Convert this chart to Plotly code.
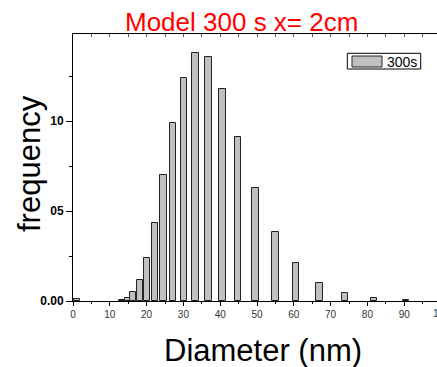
import plotly.graph_objects as go

diameters = [1.0, 13.3, 14.9, 16.4, 18.2, 20.2, 22.3, 24.6, 27.1, 30.1, 33.3,
             36.8, 40.6, 44.9, 49.6, 55.0, 60.6, 67.0, 74.0, 81.7, 90.4]
frequency = [0.0013, 0.0003, 0.0015, 0.0048, 0.0115, 0.0237, 0.0433, 0.0698,
             0.099, 0.124, 0.1376, 0.1354, 0.118, 0.0913, 0.0626, 0.0383,
             0.0209, 0.010, 0.0043, 0.0015, 0.0004]
series_name = "300s"
y_tickvals = [0.0, 0.05, 0.10]
y_ticktext = ["0.00", "05", "10"]
x_tickvals = [0, 10, 20, 30, 40, 50, 60, 70, 80, 90]

FONT = "Arial, Liberation Sans, sans-serif"
W, H = 437, 367
L, T, B = 73, 34, 66
PW = W - L
PH = H - T - B
XR = [0, PW / 3.68]
YR = [0, PH / 1800.0]


def px_x(v):
    return (v - L) / PW


def px_y(v):
    return (H - B - v) / PH


fig = go.Figure()
fig.add_trace(go.Bar(
    x=diameters, y=frequency, width=1.7, name=series_name, showlegend=False,
    marker=dict(color="#c0c0c0", line=dict(color="#222222", width=1)),
))
fig.add_trace(go.Scatter(x=[None], y=[None], xaxis="x2", showlegend=False,
                         hoverinfo="skip"))

fig.update_layout(
    width=W, height=H,
    margin=dict(l=L, r=0, t=T, b=B, autoexpand=False),
    paper_bgcolor="white", plot_bgcolor="white",
    font=dict(family=FONT, color="black"),
    bargap=0,
    xaxis=dict(
        range=XR, showgrid=False, zeroline=False,
        showline=True, linecolor="black", linewidth=1,
        tickvals=x_tickvals, ticks="outside", ticklen=4, tickcolor="black",
        tickfont=dict(size=10, color="#333333", family=FONT),
        minor=dict(dtick=5, tick0=0, ticks="outside", ticklen=2, tickcolor="black"),
    ),
    xaxis2=dict(
        range=XR, overlaying="x", side="top", showgrid=False, zeroline=False,
        showline=True, linecolor="black", linewidth=1,
        dtick=5, tick0=0, ticks="inside", ticklen=3, tickcolor="#555555",
        showticklabels=False,
    ),
    yaxis=dict(
        range=YR, showgrid=False, zeroline=False,
        showline=True, linecolor="black", linewidth=1,
        tickvals=y_tickvals, ticktext=["<b>%s</b>" % t for t in y_ticktext],
        ticks="outside", ticklen=6, tickcolor="black",
        tickfont=dict(size=12, color="black", family=FONT),
        minor=dict(tickvals=[0.025, 0.075, 0.125], ticks="outside", ticklen=3,
                   tickcolor="black"),
    ),
)

# Titles
fig.add_annotation(text="Model 300 s x= 2cm", xref="paper", yref="paper",
                   x=px_x(241.5), y=px_y(22), xanchor="center",
                   yanchor="middle", showarrow=False,
                   font=dict(size=26, color="#ff0000", family=FONT))
fig.add_annotation(text="frequency", xref="paper", yref="paper",
                   x=px_x(29), y=px_y(164), xanchor="center",
                   yanchor="middle", textangle=-90, showarrow=False,
                   font=dict(size=31, color="black", family=FONT))
fig.add_annotation(text="Diameter (nm)", xref="paper", yref="paper",
                   x=px_x(262.5), y=px_y(350), xanchor="center",
                   yanchor="middle", showarrow=False,
                   font=dict(size=31, color="black", family=FONT))
# partially visible 100 tick label (cut by the right edge, as in the reference)
fig.add_annotation(text="100", xref="paper", yref="paper", x=px_x(441.5),
                   y=px_y(313), xanchor="center", yanchor="middle",
                   showarrow=False, font=dict(size=10, color="#333333", family=FONT))

# Legend box
fig.add_shape(type="rect", xref="paper", yref="paper",
              x0=px_x(347.3), x1=px_x(420.7), y0=px_y(69), y1=px_y(53.3),
              line=dict(color="black", width=1), fillcolor="white")
fig.add_shape(type="rect", xref="paper", yref="paper",
              x0=px_x(352), x1=px_x(382), y0=px_y(67), y1=px_y(56),
              line=dict(color="#222222", width=1), fillcolor="#c0c0c0")
fig.add_annotation(text=series_name, xref="paper", yref="paper",
                   x=px_x(385), y=px_y(61.5), xanchor="left", yanchor="middle",
                   showarrow=False, font=dict(size=14, color="black", family=FONT))

fig.write_html(
    "out.html",
    config={"displayModeBar": False},
    post_script="document.body.style.margin='0';document.body.style.overflow='hidden';",
)
